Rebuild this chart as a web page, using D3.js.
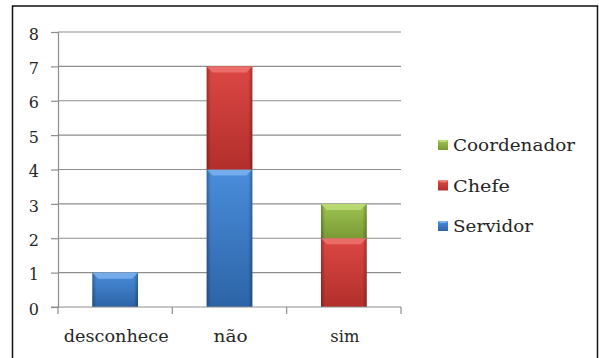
<!DOCTYPE html>
<html>
<head>
<meta charset="utf-8">
<script src="https://cdn.jsdelivr.net/npm/d3@7"></script>
<style>
  html, body { margin: 0; padding: 0; background: #fff; }
  svg { display: block; }
  svg text { font-family: "DejaVu Serif", "Noto Serif", serif; }
</style>
</head>
<body>
<svg id="chart" width="599" height="358"></svg>
<script>
// Responses per category, stacked by role
const categories = ["desconhece", "não", "sim"];
const servidor = [1, 4, 0];
const chefe = [0, 3, 2];
const coordenador = [0, 0, 1];
const seriesNames = ["Servidor", "Chefe", "Coordenador"];
const yTicks = [0, 1, 2, 3, 4, 5, 6, 7, 8];

const palette = {
  Servidor:    { top: "#4a8ddb", bottom: "#2c64a6", bevel: "#7db2ee" },
  Chefe:       { top: "#dc4744", bottom: "#b22f2b", bevel: "#ec7470" },
  Coordenador: { top: "#9dc450", bottom: "#7a9a36", bevel: "#bedd7a" }
};
const textColor = "#262626";

const svg = d3.select("#chart");
const defs = svg.append("defs");

// outer frame
svg.append("rect")
  .attr("x", 12.5).attr("y", 6).attr("width", 585).attr("height", 370)
  .attr("fill", "none").attr("stroke", "#111").attr("stroke-width", 1.5);

const plot = { left: 58, right: 401, top: 32, bottom: 307 };

const x = d3.scaleBand()
  .domain(categories)
  .range([plot.left, plot.right])
  .paddingInner(0.6)
  .paddingOuter(0.3);

const y = d3.scaleLinear().domain([0, 8]).range([plot.bottom, plot.top]);

// horizontal gridlines
svg.append("g")
  .selectAll("line")
  .data(yTicks.filter(d => d > 0))
  .join("line")
  .attr("x1", plot.left).attr("x2", plot.right)
  .attr("y1", d => y(d)).attr("y2", d => y(d))
  .attr("stroke", "#8e8e8e").attr("stroke-width", 1.2);

// y axis
const yAxis = svg.append("g")
  .attr("transform", `translate(${plot.left},0)`)
  .call(d3.axisLeft(y).tickValues(yTicks).tickSize(7).tickPadding(12).tickFormat(d3.format("d")));
yAxis.attr("font-family", null);
yAxis.select(".domain").attr("stroke", "#8e8e8e").attr("stroke-width", 1.2);
yAxis.selectAll(".tick line").attr("stroke", "#8e8e8e").attr("stroke-width", 1.2);
yAxis.selectAll(".tick text")
  .attr("font-size", 16).attr("fill", textColor)
  .attr("x", -19).attr("dy", "0.45em");

// gradients per series
seriesNames.forEach(name => {
  const g = defs.append("linearGradient")
    .attr("id", "grad-" + name).attr("x1", 0).attr("y1", 0).attr("x2", 0).attr("y2", 1);
  g.append("stop").attr("offset", "0%").attr("stop-color", palette[name].top);
  g.append("stop").attr("offset", "100%").attr("stop-color", palette[name].bottom);
});
const edge = defs.append("linearGradient")
  .attr("id", "edge").attr("x1", 0).attr("y1", 0).attr("x2", 1).attr("y2", 0);
edge.append("stop").attr("offset", "0%").attr("stop-color", "#000").attr("stop-opacity", 0.28);
edge.append("stop").attr("offset", "9%").attr("stop-color", "#000").attr("stop-opacity", 0.0);
edge.append("stop").attr("offset", "91%").attr("stop-color", "#000").attr("stop-opacity", 0.0);
edge.append("stop").attr("offset", "100%").attr("stop-color", "#000").attr("stop-opacity", 0.28);

// stacked data
const rows = categories.map((c, i) => ({
  category: c, Servidor: servidor[i], Chefe: chefe[i], Coordenador: coordenador[i]
}));
const stacked = d3.stack().keys(seriesNames)(rows);

const segs = [];
stacked.forEach(layer => {
  layer.forEach(d => {
    if (d[1] - d[0] > 0) segs.push({ key: layer.key, cat: d.data.category, y0: d[0], y1: d[1] });
  });
});

const bars = svg.append("g").selectAll("g").data(segs).join("g");
bars.append("rect")
  .attr("x", d => x(d.cat)).attr("width", x.bandwidth())
  .attr("y", d => y(d.y1)).attr("height", d => y(d.y0) - y(d.y1))
  .attr("fill", d => `url(#grad-${d.key})`);
bars.append("rect")
  .attr("x", d => x(d.cat)).attr("width", x.bandwidth())
  .attr("y", d => y(d.y1)).attr("height", d => y(d.y0) - y(d.y1))
  .attr("fill", "url(#edge)");
// bevelled top edge
bars.append("path")
  .attr("d", d => {
    const x0 = x(d.cat), x1 = x0 + x.bandwidth(), t = y(d.y1), b = 6;
    return `M${x0},${t}L${x1},${t}L${x1 - b},${t + b}L${x0 + b},${t + b}Z`;
  })
  .attr("fill", d => palette[d.key].bevel)
  .attr("opacity", 0.85);

// x axis
const xAxisG = svg.append("g").attr("transform", `translate(0,${plot.bottom})`);
xAxisG.append("line")
  .attr("x1", plot.left - 7).attr("x2", plot.right)
  .attr("y1", 0).attr("y2", 0)
  .attr("stroke", "#8e8e8e").attr("stroke-width", 1.2);
const boundaries = [plot.left].concat(categories.map(c => x(c) - x.step() * x.paddingInner() / 2 + x.step()));
boundaries[boundaries.length - 1] = plot.right;
xAxisG.selectAll(".xt").data(boundaries).join("line")
  .attr("x1", d => d).attr("x2", d => d).attr("y1", 0).attr("y2", 7)
  .attr("stroke", "#8e8e8e").attr("stroke-width", 1.2);

const catWidths = { "desconhece": 105, "não": 34, "sim": 29 };
svg.append("g").selectAll("text").data(categories).join("text")
  .attr("x", d => x(d) + x.bandwidth() / 2 + 1)
  .attr("y", 342)
  .attr("text-anchor", "middle")
  .attr("fill", textColor)
  .attr("font-size", 17)
  .attr("textLength", d => catWidths[d])
  .attr("lengthAdjust", "spacingAndGlyphs")
  .text(d => d);

// legend
const legendOrder = ["Coordenador", "Chefe", "Servidor"];
const legendWidths = { Coordenador: 122, Chefe: 57, Servidor: 80 };
const legend = svg.append("g").selectAll("g").data(legendOrder).join("g")
  .attr("transform", (d, i) => `translate(438,${151 + i * 40.5})`);
legend.append("rect")
  .attr("x", 0).attr("y", -11).attr("width", 10).attr("height", 10)
  .attr("fill", d => `url(#grad-${d})`);
legend.append("path")
  .attr("d", "M0,-11L10,-11L8,-9L2,-9Z")
  .attr("fill", d => palette[d].bevel);
legend.append("text")
  .attr("x", 15).attr("y", 0)
  .attr("fill", textColor)
  .attr("font-size", 17)
  .attr("textLength", d => legendWidths[d])
  .attr("lengthAdjust", "spacingAndGlyphs")
  .text(d => d);
</script>
</body>
</html>
